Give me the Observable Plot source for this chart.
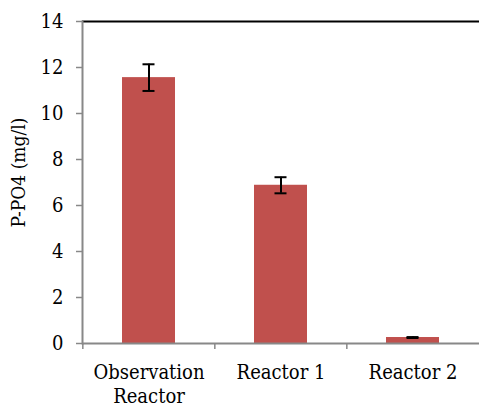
<!DOCTYPE html>
<html>
<head>
<meta charset="utf-8">
<script src="https://cdn.jsdelivr.net/npm/d3@7"></script>
<script src="https://cdn.jsdelivr.net/npm/@observablehq/plot@0.6"></script>
<style>
  html, body { margin: 0; padding: 0; background: #fff; }
</style>
</head>
<body>
<div id="chart"></div>
<script>
const categories = ["Observation\nReactor", "Reactor 1", "Reactor 2"];
const values = [11.56, 6.88, 0.26];
const errors = [0.58, 0.35, 0.02];
const yTicks = [0, 2, 4, 6, 8, 10, 12, 14];
const yLabel = "P-PO4 (mg/l)";

const data = categories.map((c, i) => ({
  cat: c, value: values[i], lo: values[i] - errors[i], hi: values[i] + errors[i]
}));

const W = 479, H = 407, ML = 82, MR = 0, MT = 21, MB = 64;
const pInner = 0.6, pOuter = 0.3;
const step = (W - ML - MR) / (categories.length - pInner + 2 * pOuter);
const font = "DejaVu Serif Condensed, DejaVu Serif";

const chart = Plot.plot({
  width: W, height: H,
  marginLeft: ML, marginRight: MR, marginTop: MT, marginBottom: MB,
  style: { fontSize: "20px", color: "black", background: "white", fontFamily: font },
  x: { domain: categories, paddingInner: pInner, paddingOuter: pOuter, axis: null, label: null },
  y: { domain: [0, 14], axis: null, label: null },
  marks: [
    Plot.barY(data, { x: "cat", y: "value", fill: "#C0504D" }),
    Plot.ruleX(data, { x: "cat", y1: "lo", y2: "hi", stroke: "black", strokeWidth: 2 }),
    Plot.tickY(data, { x: "cat", y: "lo", stroke: "black", strokeWidth: 2, insetLeft: 20.5, insetRight: 20.5 }),
    Plot.tickY(data, { x: "cat", y: "hi", stroke: "black", strokeWidth: 2, insetLeft: 20.5, insetRight: 20.5 }),
    Plot.ruleY([14], { stroke: "black", strokeWidth: 2 }),
    Plot.axisY({ ticks: yTicks, tickSize: 6, tickPadding: 13, stroke: "#888", strokeWidth: 1.5, fontSize: 20, fontFamily: font, label: null }),
    Plot.axisX({ tickSize: 6, tickFormat: () => "", dx: -step / 2, stroke: "#888", strokeWidth: 1.5, label: null }),
    Plot.axisX({ tickSize: 0, tickPadding: 18, fontSize: 20, fontFamily: font, lineHeight: 1.2, label: null }),
    Plot.ruleY([0], { stroke: "#888", strokeWidth: 2 }),
    Plot.frame({ anchor: "left", stroke: "#888", strokeWidth: 2 }),
    Plot.text([yLabel], { frameAnchor: "left", textAnchor: "middle", rotate: -90, dx: -64, dy: -10, fontSize: 19, fontFamily: font, fill: "black" })
  ]
});
document.getElementById("chart").appendChild(chart);
</script>
</body>
</html>
